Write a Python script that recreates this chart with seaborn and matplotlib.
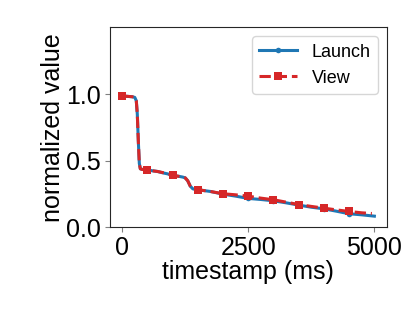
import matplotlib
matplotlib.use("Agg")
import matplotlib.pyplot as plt
import seaborn as sns

# timestamps (ms) and normalized values
launch_ms = [0, 100, 200, 250, 280, 300, 320, 340, 360, 400, 500, 600, 700, 800, 900, 1000,
             1100, 1200, 1250, 1300, 1350, 1400, 1450, 1500, 1750, 2000, 2250, 2500, 2750,
             3000, 3250, 3500, 3750, 4000, 4250, 4500, 4750, 5000]
launch_val = [0.985, 0.983, 0.980, 0.975, 0.95, 0.85, 0.65, 0.48, 0.44, 0.435, 0.432, 0.425,
              0.42, 0.41, 0.402, 0.39, 0.385, 0.378, 0.372, 0.35, 0.31, 0.29, 0.285, 0.283,
              0.27, 0.25, 0.235, 0.218, 0.21, 0.2, 0.185, 0.168, 0.152, 0.14, 0.122, 0.103,
              0.095, 0.085]

view_ms = [0, 100, 200, 250, 280, 300, 320, 340, 360, 400, 500, 600, 700, 800, 900, 1000,
           1100, 1200, 1250, 1300, 1350, 1400, 1450, 1500, 1750, 2000, 2250, 2500, 2750,
           3000, 3250, 3500, 3750, 4000, 4250, 4500, 4750, 4950]
view_val = [0.985, 0.983, 0.980, 0.975, 0.95, 0.85, 0.65, 0.48, 0.44, 0.435, 0.432, 0.425,
            0.42, 0.412, 0.405, 0.39, 0.385, 0.378, 0.372, 0.35, 0.31, 0.29, 0.285, 0.283,
            0.27, 0.253, 0.245, 0.235, 0.22, 0.208, 0.19, 0.172, 0.158, 0.145, 0.132, 0.12,
            0.11, 0.105]

plt.rcParams['font.family'] = ['Liberation Sans', 'DejaVu Sans']

fig, ax = plt.subplots(figsize=(4.15, 3.11), dpi=100)
fig.subplots_adjust(left=0.264, right=0.9325, top=0.912, bottom=0.2685)

# markers every 500 ms
launch_marks = [i for i, t in enumerate(launch_ms) if t % 500 == 0 and t < 5000]
view_marks = [i for i, t in enumerate(view_ms) if t % 500 == 0]

sns.lineplot(x=launch_ms, y=launch_val, ax=ax, color='#1f77b4', lw=2.2, marker='o',
             markersize=4, markeredgewidth=0, markevery=launch_marks, label='Launch')
sns.lineplot(x=view_ms, y=view_val, ax=ax, color='#d62728', lw=2.2, linestyle='--', marker='s',
             markersize=6, markeredgewidth=0, markevery=view_marks, label='View')

ax.set_ylim(0, 1.5)
ax.set_yticks([0.0, 0.5, 1.0])
ax.set_xticks([0, 2500, 5000])
ax.set_xlabel('timestamp (ms)', fontsize=18, labelpad=0)
ax.set_ylabel('normalized value', fontsize=18, labelpad=1)
ax.tick_params(labelsize=18, color='0.5', length=3.5, pad=2.5)
for s in ax.spines.values():
    s.set_color('0.15')

ax.legend(loc='upper right', fontsize=13, handlelength=2.1)

fig.savefig('out.png', dpi=100)
